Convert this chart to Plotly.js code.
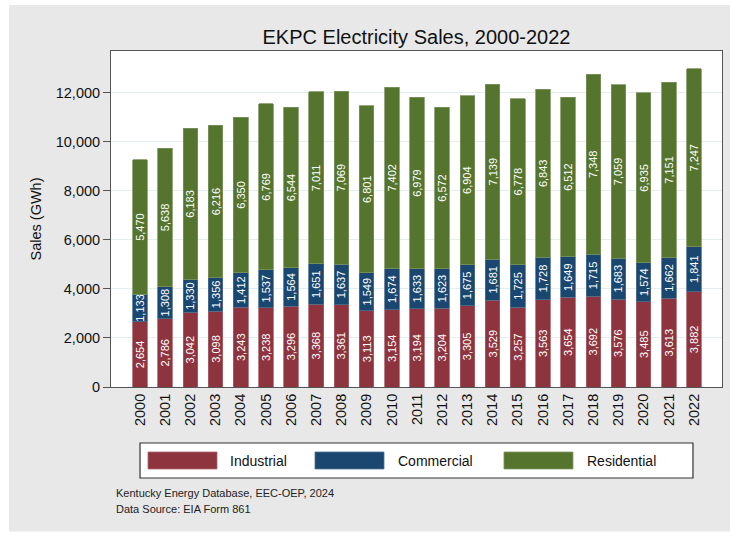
<!DOCTYPE html>
<html>
<head>
<meta charset="utf-8">
<script src="https://cdn.plot.ly/plotly-3.0.1.min.js"></script>
<style>html,body{margin:0;padding:0;background:#fff;}#chart{width:730px;height:534px;}</style>
</head>
<body>
<div id="chart"></div>
<script>
const years = ["2000","2001","2002","2003","2004","2005","2006","2007","2008","2009","2010","2011","2012","2013","2014","2015","2016","2017","2018","2019","2020","2021","2022"];
const industrial = [2654,2786,3042,3098,3243,3238,3296,3368,3361,3113,3154,3194,3204,3305,3529,3257,3563,3654,3692,3576,3485,3613,3882];
const commercial = [1133,1308,1330,1356,1412,1537,1564,1651,1637,1549,1674,1633,1623,1675,1681,1725,1728,1649,1715,1683,1574,1662,1841];
const residential = [5470,5638,6183,6216,6350,6769,6544,7011,7069,6801,7402,6979,6572,6904,7139,6778,6843,6512,7348,7059,6935,7151,7247];
const seriesNames = ["Industrial","Commercial","Residential"];
const yTicks = [0,2000,4000,6000,8000,10000,12000];
const titleText = "EKPC Electricity Sales, 2000-2022";
const yTitle = "Sales (GWh)";
const notes = ["Kentucky Energy Database, EEC-OEP, 2024","Data Source: EIA Form 861"];

const colors = ["#8e343e","#1a476f","#55752f"];
const edges = ["#a9626a","#4f6f8f","#7c9460"];
const FONT = "Liberation Sans, Arial, sans-serif";

function mk(vals, i){
  return {
    type:"bar", x:years, y:vals, name:seriesNames[i],
    marker:{color:colors[i], line:{color:edges[i], width:0.8}},
    width:0.58,
    texttemplate:"%{y:,}", textposition:"inside", insidetextanchor:"middle",
    textangle:-90, constraintext:"none",
    textfont:{family:FONT, size:11, color:"#ffffff"},
    hoverinfo:"skip", showlegend:false
  };
}
const data = [mk(industrial,0), mk(commercial,1), mk(residential,2)];

const shapes = [
  {type:"rect", xref:"paper", yref:"paper", x0:-0.1669, x1:1.02, y0:-0.43, y1:1.137, fillcolor:"#e8e8e8", line:{width:0}, layer:"below"},
  {type:"rect", xref:"paper", yref:"paper", x0:0, x1:1, y0:0, y1:1, fillcolor:"#ffffff", line:{width:0}, layer:"below"},
  {type:"rect", xref:"paper", yref:"paper", x0:0.0475, x1:0.9525, y0:-0.2708, y1:-0.1667, fillcolor:"#ffffff", line:{color:"#333333", width:1.2}}
];
const swX = [[0.0606,0.1735],[0.3339,0.4468],[0.6432,0.7561]];
const txX = [0.1915,0.4664,0.7758];
const annotations = [];
for (let i=0;i<3;i++){
  shapes.push({type:"rect", xref:"paper", yref:"paper", x0:swX[i][0], x1:swX[i][1], y0:-0.244, y1:-0.1935, fillcolor:colors[i], line:{color:edges[i], width:0.8}});
  annotations.push({xref:"paper", yref:"paper", x:txX[i], y:-0.21875, xanchor:"left", yanchor:"middle", text:seriesNames[i], showarrow:false, font:{family:FONT, size:14, color:"#111"}});
}
annotations.push({xref:"paper", yref:"paper", x:0.0049, y:-0.3155, xanchor:"left", yanchor:"middle", text:notes[0], showarrow:false, font:{family:FONT, size:11, color:"#222"}});
annotations.push({xref:"paper", yref:"paper", x:0.0049, y:-0.363, xanchor:"left", yanchor:"middle", text:notes[1], showarrow:false, font:{family:FONT, size:11, color:"#222"}});

const layout = {
  width:730, height:534,
  margin:{l:111, r:8, t:51, b:147},
  paper_bgcolor:"#ffffff", plot_bgcolor:"rgba(0,0,0,0)",
  barmode:"stack",
  font:{family:FONT, color:"#111"},
  title:{text:titleText, font:{family:FONT, size:20, color:"#111"}, x:0.5, xref:"paper", y:0.93, yref:"container", yanchor:"middle"},
  xaxis:{type:"category", range:[-1.15,23.11], tickangle:-90, tickfont:{family:FONT, size:14.5, color:"#111"},
    showline:true, linecolor:"#555", linewidth:1, mirror:true, ticks:"", showgrid:false, zeroline:false, fixedrange:true},
  yaxis:{range:[0,13700], tickvals:yTicks, tickformat:",", tickfont:{family:FONT, size:14.5, color:"#111"},
    ticks:"outside", ticklen:7, tickcolor:"#555", showline:true, linecolor:"#555", linewidth:1, mirror:true,
    showgrid:true, gridcolor:"#e4eef0", gridwidth:1, zeroline:false,
    title:{text:yTitle, font:{family:FONT, size:14.5, color:"#111"}, standoff:10}, fixedrange:true},
  shapes:shapes, annotations:annotations
};
Plotly.newPlot("chart", data, layout, {displayModeBar:false, staticPlot:true});
</script>
</body>
</html>
